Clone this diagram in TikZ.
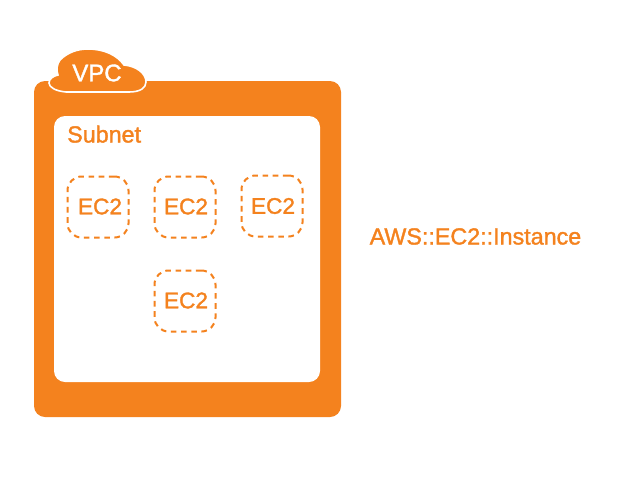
\documentclass[tikz,border=0pt]{standalone}
\usepackage{fontspec}
\setmainfont[FakeBold=1.5]{Liberation Sans}
\definecolor{awsorange}{HTML}{F4821E}
\tikzset{
  x=1pt,y=-1pt,
  vpcbox/.style={fill=awsorange,rounded corners=11pt,minimum width=307pt,minimum height=336pt,inner sep=0pt},
  subnetbox/.style={fill=white,rounded corners=11pt,minimum width=266pt,minimum height=266pt,inner sep=0pt},
  ecbox/.style={draw=awsorange,line width=2pt,dash pattern=on 5.6pt off 4.6pt,rounded corners=14pt,minimum width=61pt,minimum height=61pt,inner sep=0pt},
  eclabel/.style={text=awsorange,inner sep=0pt,font=\fontsize{22.6}{24}\selectfont},
  label/.style={text=awsorange,inner sep=0pt,anchor=base west,font=\fontsize{23.3}{24}\selectfont},
}
\begin{document}
\begin{tikzpicture}
\useasboundingbox (0,0) rectangle (640,480);
\node[vpcbox] (vpc) at (187.5,249) {};
\node[subnetbox] (subnet) at (187,249) {};
\draw[fill=awsorange,draw=white,line width=1.6pt]
  (66,92) .. controls (55,91) and (49,87) .. (49,83)
  .. controls (49,79) and (53,76) .. (58,75)
  .. controls (56,70) and (57,64) .. (60,60)
  .. controls (68,52) and (78,49) .. (88,49)
  .. controls (104,49) and (117,55) .. (124,65)
  .. controls (136,66) and (146,73) .. (146,82)
  .. controls (146,88) and (140,92) .. (129,92)
  -- cycle;
\node[text=white,inner sep=0pt,font=\fontsize{24}{24}\selectfont] (vpclabel) at (97,73) {VPC};
\node[label] (subnetlabel) at (67,142.5) {Subnet};
\node[ecbox] (a) at (98,207) {};
\node[ecbox] (b) at (185,207) {};
\node[ecbox] (c) at (272,206) {};
\node[ecbox] (d) at (185,301) {};
\node[eclabel] (at) at (100,206.5) {EC2};
\node[eclabel] (bt) at (186,206.5) {EC2};
\node[eclabel] (ct) at (273,206) {EC2};
\node[eclabel] (dt) at (186,300.5) {EC2};
\node[label] (type) at (369.5,244.5) {AWS::EC2::Instance};
\end{tikzpicture}
\end{document}
